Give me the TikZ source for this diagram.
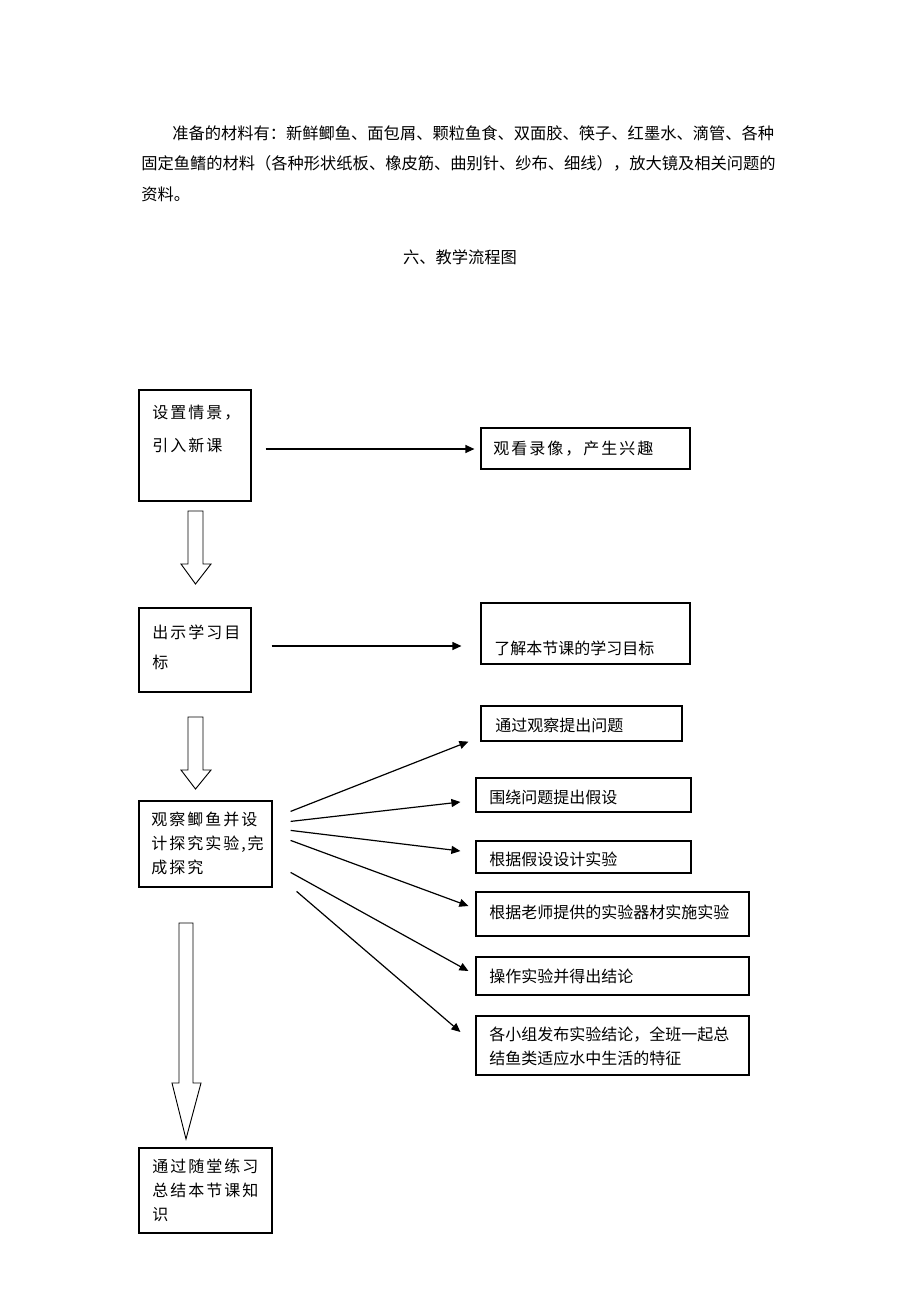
\documentclass[tikz,border=0pt]{standalone}
\usepackage{fontspec}
\newfontfamily\cjk{Noto Sans CJK SC}
\usetikzlibrary{arrows.meta,fit}

\begin{document}
\begin{tikzpicture}[x=0.75pt,y=-0.75pt,
    box/.style={draw,line width=0.9pt,inner sep=0pt},
    txt/.style={font=\cjk\fontsize{12}{18}\selectfont,inner sep=0pt,align=left},
    para/.style={font=\cjk\fontsize{12.2}{18}\selectfont,inner sep=0pt},
    wide/.style={txt,font=\cjk\addfontfeature{LetterSpace=12.5}\fontsize{12}{18}\selectfont},
    link/.style={-{Triangle[length=6.75pt,width=6pt]},line width=0.9pt},
    hollow/.style={draw,line width=0.7pt,fill=white}]

  \useasboundingbox (0,0) rectangle (920,1303);

  % text above the chart
  \node[para,anchor=west] (p1) at (172,133) {准备的材料有：新鲜鲫鱼、面包屑、颗粒鱼食、双面胶、筷子、红墨水、滴管、各种};
  \node[para,anchor=west] (p2) at (141,163) {固定鱼鳍的材料（各种形状纸板、橡皮筋、曲别针、纱布、细线），放大镜及相关问题的};
  \node[para,anchor=west] (p3) at (141,194) {资料。};
  \node[para] (title) at (460,257) {六、教学流程图};

  % left column
  \node[box,fit={(139,390) (251,501)}] (b1) {};
  \node[box,fit={(139,608) (251,692)}] (b2) {};
  \node[box,fit={(139,801) (272,887)}] (b3) {};
  \node[box,fit={(139,1148) (272,1233)}] (b4) {};

  \node[wide,anchor=north west] (t1) at (152,405) {设置情景，\\[6.75pt]引入新课};
  \node[wide,anchor=north west] (t2) at (152,625) {出示学习目\\[4.5pt]标};
  \node[wide,anchor=north west] (t3) at (151,812) {观察鲫鱼并设\\计探究实验,完\\成探究};
  \node[wide,anchor=north west] (t4) at (152,1159) {通过随堂练习\\总结本节课知\\识};

  % right column
  \node[box,fit={(481,428) (690,469)}] (r0) {};
  \node[box,fit={(481,603) (690,664)}] (rg) {};
  \node[box,fit={(481,706) (682,741)}] (r1) {};
  \node[box,fit={(476,778) (691,812)}] (r2) {};
  \node[box,fit={(476,841) (691,873)}] (r3) {};
  \node[box,fit={(476,892) (749,936)}] (r4) {};
  \node[box,fit={(476,957) (749,995)}] (r5) {};
  \node[box,fit={(476,1016) (749,1075)}] (r6) {};

  \node[wide,anchor=west] (s0) at (493,449) {观看录像，产生兴趣};
  \node[txt,anchor=west] (sg) at (494,648) {了解本节课的学习目标};
  \node[txt,anchor=west] (s1) at (495,725) {通过观察提出问题};
  \node[txt,anchor=west] (s2) at (489,797) {围绕问题提出假设};
  \node[txt,anchor=west] (s3) at (489,859) {根据假设设计实验};
  \node[txt,anchor=west] (s4) at (489,912) {根据老师提供的实验器材实施实验};
  \node[txt,anchor=west] (s5) at (489,976) {操作实验并得出结论};
  \node[txt,anchor=north west] (s6) at (489,1027) {各小组发布实验结论，全班一起总\\结鱼类适应水中生活的特征};

  % arrows to the right
  \draw[link] ([shift={(14,3.5)}]b1.east) -- ([shift={(-6,0.5)}]r0.west);
  \draw[link] ([shift={(20,-4)}]b2.east) -- ([shift={(-19,12.5)}]rg.west);
  \draw[link] ([shift={(18,11)}]b3.north east) -- ([shift={(-12,0)}]r1.south west);
  \draw[link] ([shift={(18,21)}]b3.north east) -- ([shift={(-15,7)}]r2.west);
  \draw[link] ([shift={(18,30)}]b3.north east) -- ([shift={(-15,-6)}]r3.west);
  \draw[link] ([shift={(18,40)}]b3.north east) -- ([shift={(-7,-8)}]r4.west);
  \draw[link] ([shift={(18,72)}]b3.north east) -- ([shift={(-7,-5)}]r5.west);
  \draw[link] ([shift={(24,91)}]b3.north east) -- ([shift={(-15,-13.5)}]r6.west);

  % hollow arrows down the left column
  \foreach \xl/\xr/\yt/\yh/\hl/\hr/\yp in {188/203/511/564/181/211/584,
      188/203/717/770/181/211/789, 179/193/923/1083/172/201/1139}
    \draw[hollow] (\xl,\yt) -- (\xr,\yt) -- (\xr,\yh) -- (\hr,\yh)
      -- ({(\xl+\xr)/2},\yp) -- (\hl,\yh) -- (\xl,\yh) -- cycle;

\end{tikzpicture}
\end{document}
